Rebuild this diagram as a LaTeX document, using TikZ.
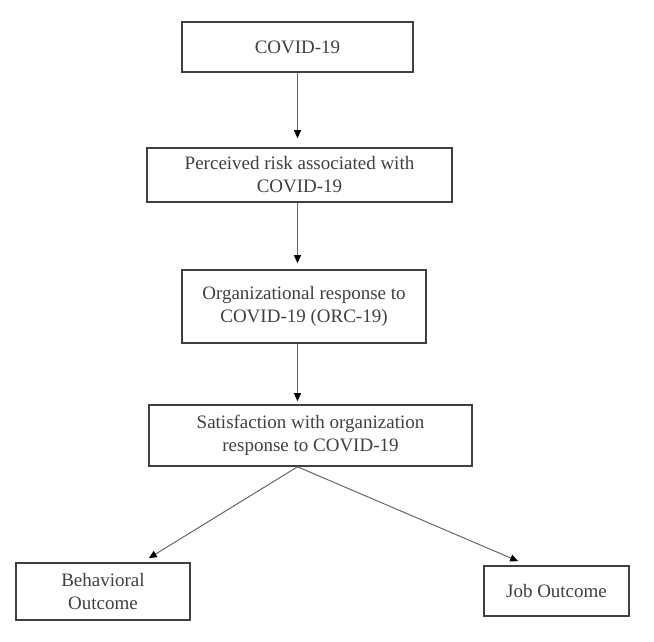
\documentclass[tikz,border=0pt]{standalone}
\usepackage{fontspec}
\setmainfont{Liberation Serif}
\usetikzlibrary{arrows.meta}
\begin{document}
\begin{tikzpicture}[x=1pt,y=-1pt,
  box/.style={draw=black!75, line width=1.6pt, inner sep=0pt, align=center,
    font=\fontsize{19}{23}\selectfont, text=black!75},
  arr/.style={draw=black!60, line width=1pt,
    -{Triangle[length=8pt,width=7pt,fill=black,color=black]}}]
\useasboundingbox (0,0) rectangle (654,642);
\node[box, minimum width=231pt, minimum height=50pt] (b1) at (297.5,47) {COVID-19};
\node[box, minimum width=305pt, minimum height=54pt] (b2) at (299.5,175) {Perceived risk associated with\\COVID-19};
\node[box, minimum width=244pt, minimum height=73pt] (b3) at (304,306.5) {Organizational response to\\COVID-19 (ORC-19)};
\node[box, minimum width=323pt, minimum height=61pt] (b4) at (310.5,435.5) {Satisfaction with organization\\response to COVID-19};
\node[box, minimum width=174pt, minimum height=57pt] (b5) at (103,591.5) {Behavioral\\Outcome};
\node[box, minimum width=145pt, minimum height=50pt] (b6) at (556.5,591) {Job Outcome};
\draw[arr, shorten >=9pt] (b1.south) -- (b1.south |- b2.north);
\draw[arr, shorten >=6pt] (b1.south |- b2.south) -- (b1.south |- b3.north);
\draw[arr, shorten >=3pt] (b1.south |- b3.south) -- (b1.south |- b4.north);
\coordinate (split) at (b1.south |- b4.south);
\draw[arr] (split) -- ([xshift=-42pt,yshift=4pt]b5.north east);
\draw[arr] (split) -- ([xshift=35pt,yshift=4pt]b6.north west);
\end{tikzpicture}
\end{document}
